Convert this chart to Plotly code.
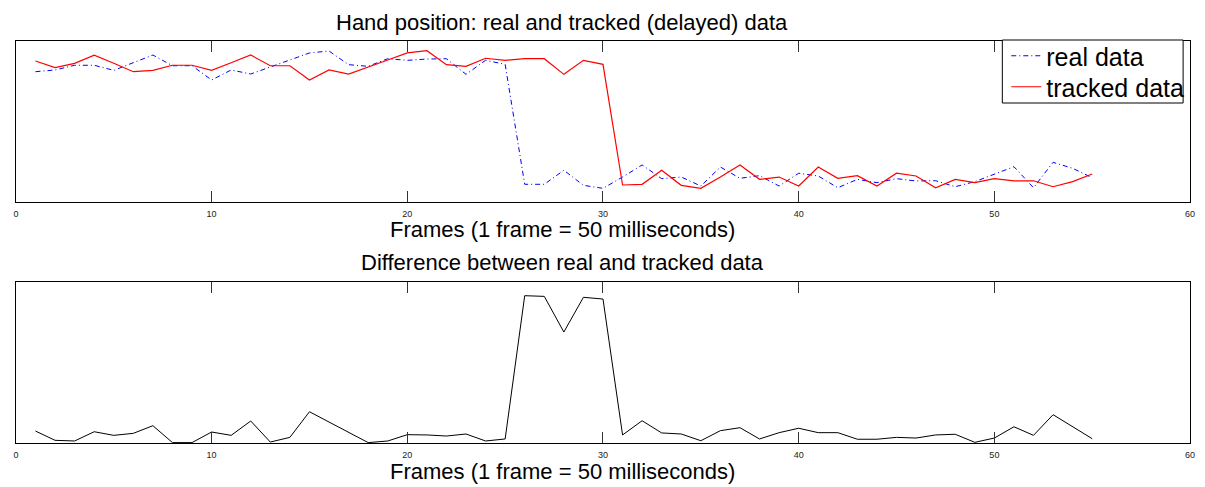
import plotly.graph_objects as go

# Frame index (1 frame = 50 ms)
frames = list(range(1, 56))

# Hand position, real measurement
real_data = [
    113.3, 114.8, 118.9, 118.9, 114.5, 121.1, 127.8, 118.5, 118.5, 106.1,
    114.8, 111.3, 117.7, 123.5, 129.6, 131.3, 119.4, 118.0, 124.6, 123.2,
    124.3, 124.6, 111.0, 123.2, 119.7, 15.4, 15.4, 27.6, 14.5, 11.9,
    21.7, 32.2, 20.3, 21.7, 13.9, 30.4, 20.6, 22.9, 13.9, 25.0,
    22.6, 12.4, 19.7, 16.8, 20.3, 18.3, 18.5, 13.3, 17.7, 24.3,
    30.7, 12.4, 34.5, 29.3, 21.1,
]

# Hand position as reported by the tracker (delayed)
tracked_data = [
    122.6, 116.8, 120.6, 127.6, 120.6, 113.3, 114.5, 118.9, 118.9, 114.5,
    121.1, 127.8, 118.5, 118.5, 106.1, 114.8, 111.3, 117.7, 123.5, 129.6,
    131.6, 119.4, 118.0, 125.0, 123.2, 124.6, 124.6, 111.0, 123.2, 119.7,
    14.8, 15.4, 27.6, 14.5, 11.9, 21.7, 32.2, 19.7, 21.7, 13.9,
    30.4, 20.6, 22.9, 13.9, 25.0, 22.6, 12.4, 19.7, 16.8, 20.3,
    18.3, 18.5, 13.3, 17.7, 24.3,
]

# Absolute difference between real and tracked position
difference = [
    8.9, 2.0, 1.5, 8.4, 5.7, 7.2, 12.9, 0.3, 0.3, 8.2,
    5.7, 16.4, 0.7, 4.2, 23.3, 15.5, 7.7, 0.3, 1.5, 6.2,
    6.0, 5.2, 6.7, 1.5, 3.0, 109.8, 109.3, 82.7, 108.6, 107.3,
    6.0, 16.6, 7.5, 6.7, 1.7, 9.2, 11.4, 3.0, 7.7, 11.0,
    7.7, 7.7, 2.8, 2.8, 4.2, 3.7, 6.0, 6.5, 0.5, 3.7,
    12.1, 5.7, 21.1, 12.1, 3.2,
]

x_ticks = [0, 10, 20, 30, 40, 50, 60]

W, H = 1205, 487
FONT = "Liberation Sans, Arial, Helvetica, sans-serif"


def py(px):
    """Convert a pixel row (from top) to paper y."""
    return 1 - px / H


def pxx(px):
    return px / W


fig = go.Figure()

fig.add_trace(go.Scatter(
    x=frames, y=real_data, name="real data", mode="lines",
    line=dict(color="#0000ff", width=1, dash="5px,3px,1px,3px"),
    xaxis="x", yaxis="y", legend="legend",
))
fig.add_trace(go.Scatter(
    x=frames, y=tracked_data, name="tracked data", mode="lines",
    line=dict(color="#ff0000", width=1.2),
    xaxis="x", yaxis="y", legend="legend2",
))
fig.add_trace(go.Scatter(
    x=frames, y=difference, name="difference", mode="lines",
    line=dict(color="#000000", width=1), showlegend=False,
    xaxis="x2", yaxis="y2",
))

x_common = dict(
    range=[0, 60], tickvals=x_ticks, ticktext=[str(v) for v in x_ticks],
    ticks="inside", ticklen=11, tickwidth=1, tickcolor="#333333",
    showline=True, linecolor="#000000", linewidth=1, mirror="ticks",
    showgrid=False, zeroline=False,
    tickfont=dict(family=FONT, size=9, color="#222222"),
    ticklabelstandoff=3,
)
y_common = dict(
    showticklabels=False, ticks="", showline=True, linecolor="#000000",
    linewidth=1, mirror=True, showgrid=False, zeroline=False,
)

legend_common = dict(
    xanchor="left", yanchor="top", bgcolor="rgba(0,0,0,0)", borderwidth=0,
    font=dict(family=FONT, size=25, color="#000000"), itemwidth=30,
)

fig.update_layout(
    width=W, height=H,
    margin=dict(l=0, r=0, t=0, b=0),
    paper_bgcolor="white", plot_bgcolor="white",
    font=dict(family=FONT, color="#000000"),
    xaxis=dict(domain=[pxx(13), pxx(1195)], anchor="y", **x_common),
    yaxis=dict(domain=[py(202), py(41)], anchor="x", range=[0, 140], **y_common),
    xaxis2=dict(domain=[pxx(13), pxx(1195)], anchor="y2", **x_common),
    yaxis2=dict(domain=[py(443), py(282)], anchor="x2", range=[0, 120], **y_common),
    legend=dict(x=pxx(1010), y=py(33), **legend_common),
    legend2=dict(x=pxx(1010), y=py(64), **legend_common),
    showlegend=True,
)

# Legend frame
fig.add_shape(
    type="rect", xref="paper", yref="paper",
    x0=pxx(1006), x1=pxx(1188), y0=py(103), y1=py(40),
    line=dict(color="#000000", width=1), fillcolor="white", layer="above",
)

texts = [
    ("Hand position: real and tracked (delayed) data", 22),
    ("Frames (1 frame = 50 milliseconds)", 229),
    ("Difference between real and tracked data", 262),
    ("Frames (1 frame = 50 milliseconds)", 471),
]
for txt, yc in texts:
    fig.add_annotation(
        text=txt, xref="paper", yref="paper", x=pxx(563), y=py(yc),
        xanchor="center", yanchor="middle", showarrow=False,
        font=dict(family=FONT, size=22, color="#000000"),
    )

fig.write_html("out.html")
